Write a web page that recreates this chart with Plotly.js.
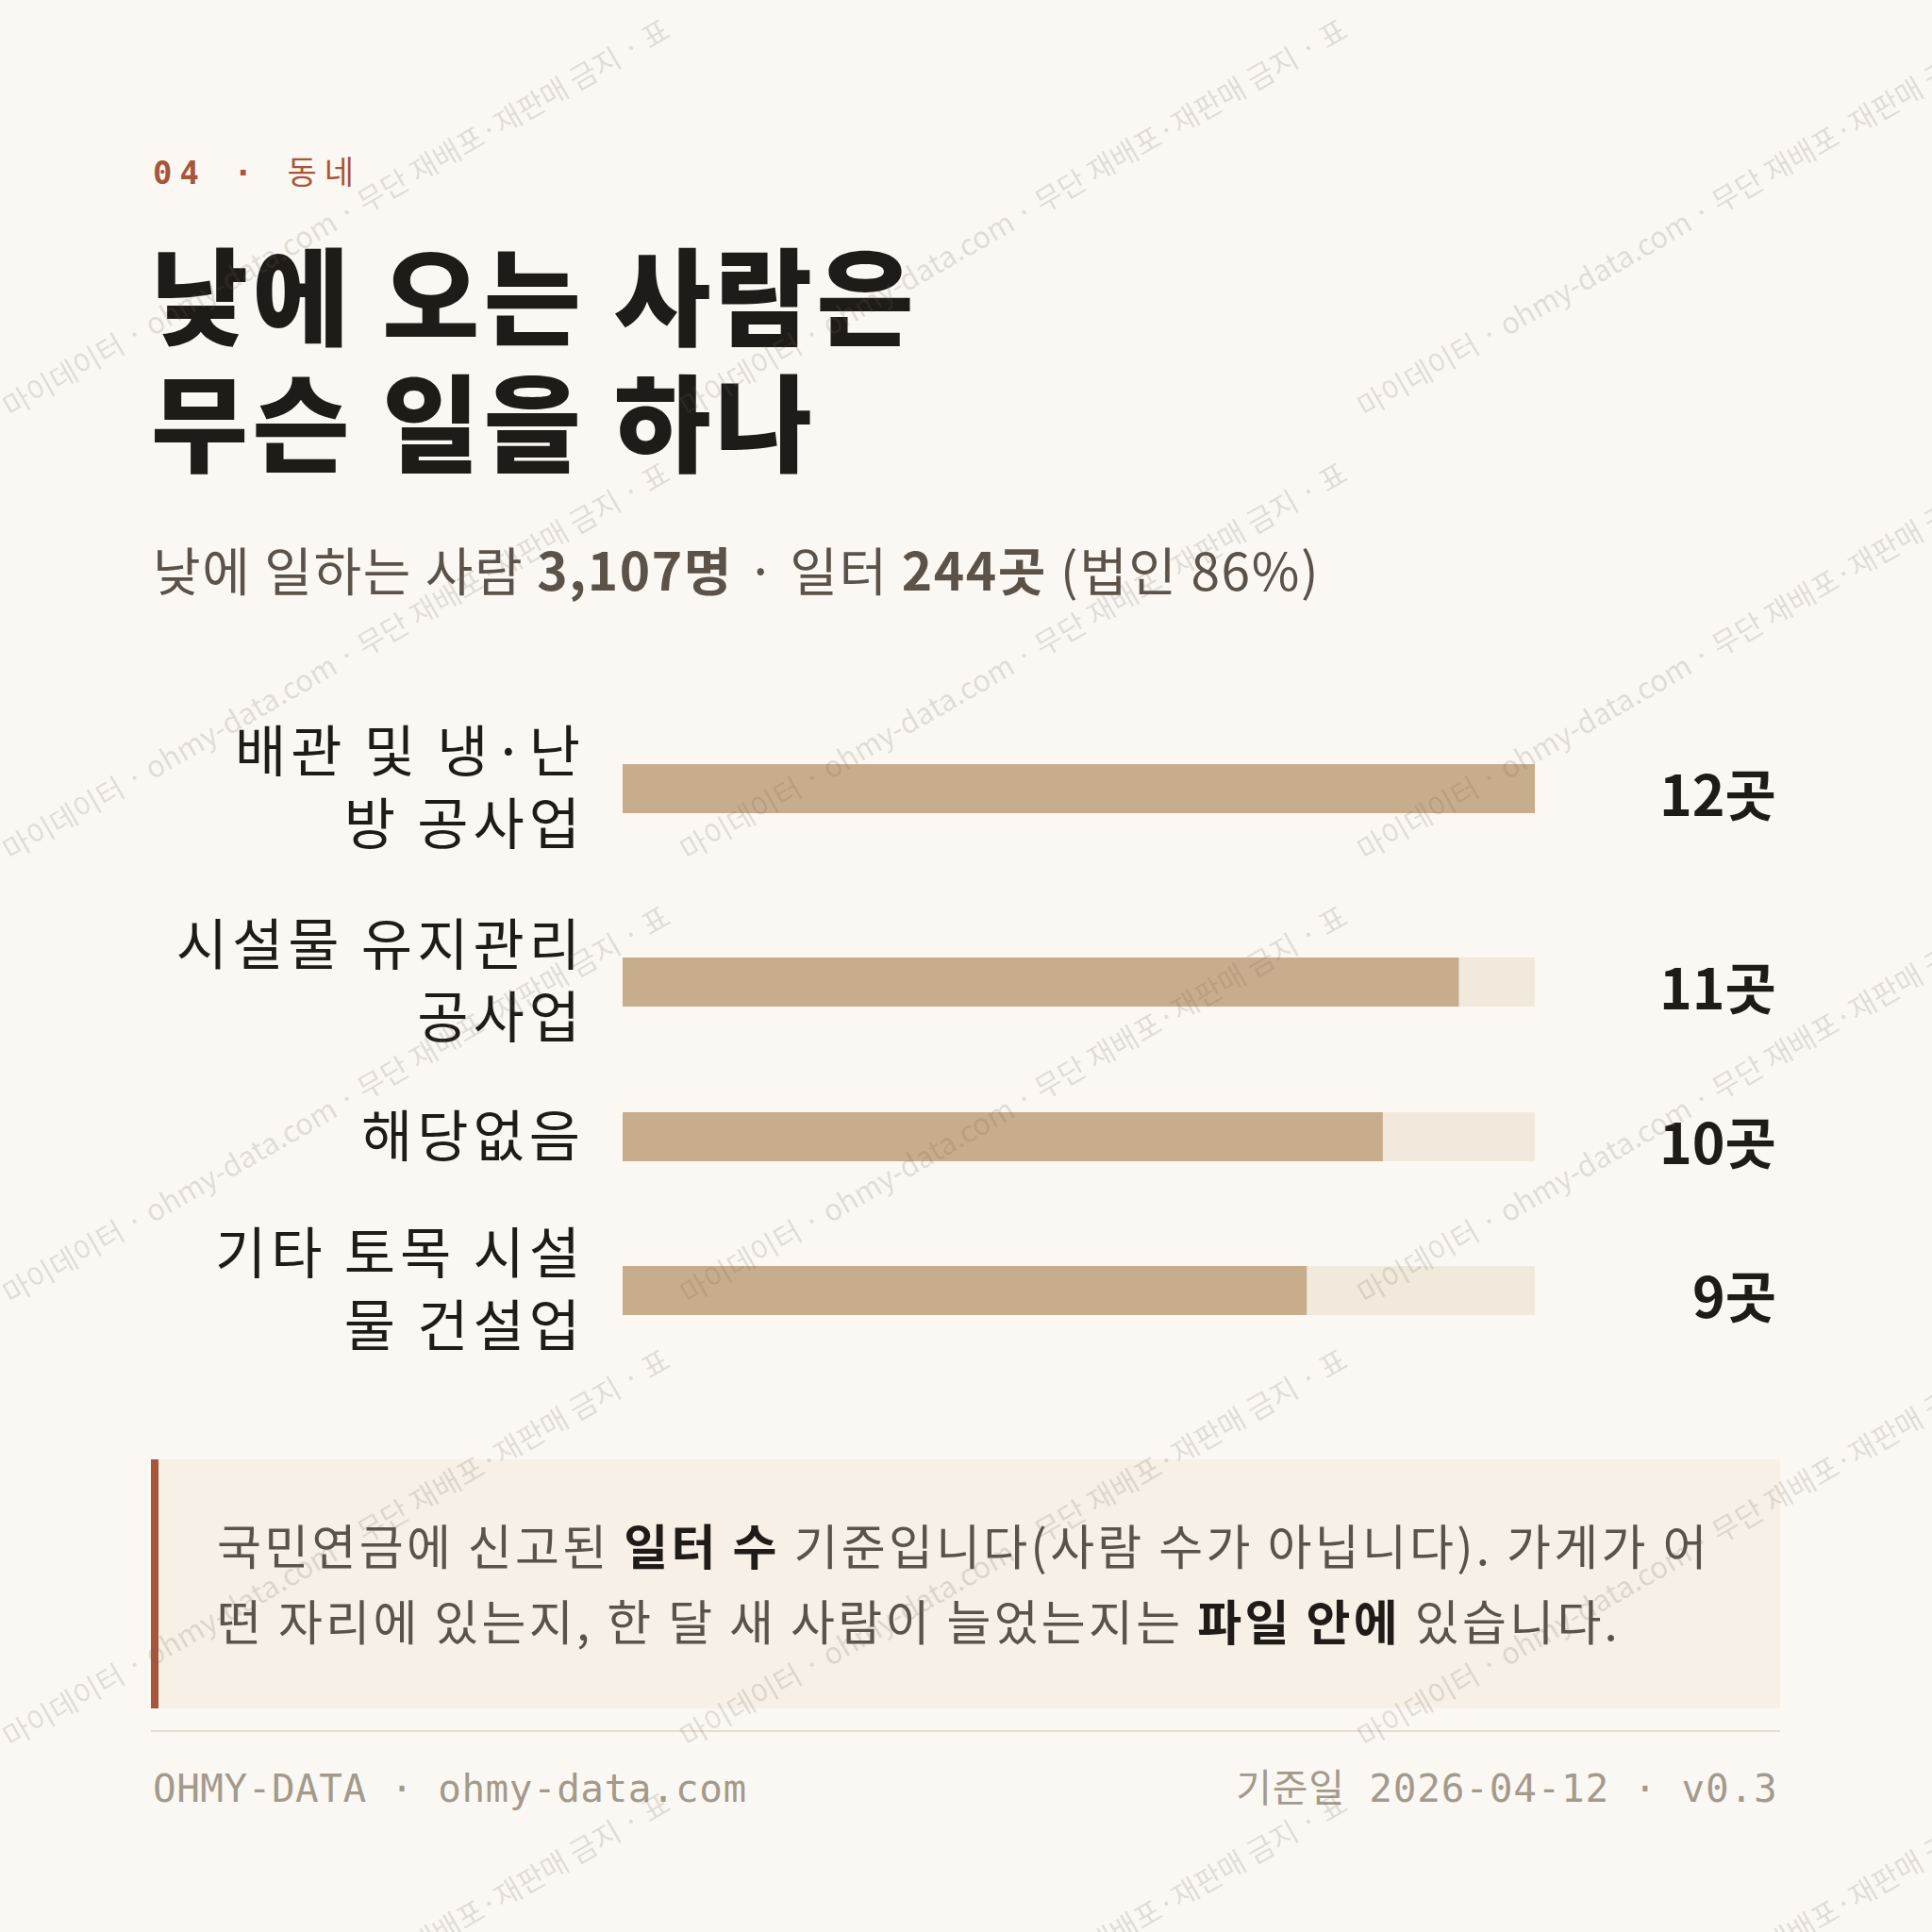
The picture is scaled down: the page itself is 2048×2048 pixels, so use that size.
<!DOCTYPE html>
<html>
<head>
<meta charset="utf-8">
<script src="https://cdn.plot.ly/plotly-3.0.1.min.js"></script>
<style>
  html, body { margin: 0; padding: 0; background: #FBF8F3; }
  #chart { width: 2048px; height: 2048px; }
</style>
</head>
<body>
<div id="chart"></div>
<script>
// ---------------- data ----------------
const categories = ['배관 및 냉·난방 공사업', '시설물 유지관리 공사업', '해당없음', '기타 토목 시설물 건설업'];
const tickLabels = ['배관 및 냉·난<br>방 공사업', '시설물 유지관리<br>공사업', '해당없음', '기타 토목 시설<br>물 건설업'];
const values = [12, 11, 10, 9];
const unit = '곳';

const kicker = '04 ·';
const section = '동네';
const titleLines = ['낮에 오는 사람은', '무슨 일을 하나'];
const subtitle = '낮에 일하는 사람 <b>3,107명</b> · 일터 <b>244곳</b> (법인 86%)';
const noteLines = [
  '국민연금에 신고된 <b><span style="color:#1F1B18">일터 수</span></b> 기준입니다(사람 수가 아닙니다). 가게가 어',
  '떤 자리에 있는지, 한 달 새 사람이 늘었는지는 <b><span style="color:#1F1B18">파일 안에</span></b> 있습니다.'
];
const footerLeft = 'OHMY-DATA · ohmy-data.com';
const footerRight = '기준일 2026-04-12 · v0.3';
const watermark = '마이데이터 · ohmy-data.com · 무단 재배포·재판매 금지 · 표';

// ---------------- style ----------------
const W = 2048, H = 2048;
const KR = "'Noto Sans CJK KR', 'Noto Sans', sans-serif";
const MONO = "'DejaVu Sans Mono', 'Noto Sans CJK KR', monospace";
const C = {
  bg: '#FBF8F3', bar: '#C8AD8C', track: '#F1E9DC', ink: '#1F1B18', sub: '#5B5349',
  accent: '#A8553A', noteBg: '#F6F0E6', rule: '#E6DDD0', foot: '#A39A8E'
};
const px = v => v / W;
const py = v => 1 - v / H;

const rowCenters = [836, 1041, 1205, 1368]; // layout row positions (px)
const rowHalf = 50;
const barThick = 0.52;
const maxVal = Math.max(...values);
const labelSpacing = 5;

// ---------------- traces ----------------
const traces = [];
const layout = {
  width: W, height: H,
  margin: { l: 0, r: 0, t: 0, b: 0 },
  paper_bgcolor: C.bg, plot_bgcolor: 'rgba(0,0,0,0)',
  showlegend: false,
  barmode: 'overlay',
  xaxis: { domain: [px(660), px(1627)], range: [0, maxVal], visible: false, fixedrange: true },
  annotations: [], shapes: []
};
const spacing = {}; // annotation index -> letter-spacing px

categories.forEach((cat, i) => {
  const yName = i === 0 ? 'y' : 'y' + (i + 1);
  const axKey = i === 0 ? 'yaxis' : 'yaxis' + (i + 1);
  traces.push({
    type: 'bar', orientation: 'h', x: [maxVal], y: [cat], xaxis: 'x', yaxis: yName,
    width: barThick, marker: { color: C.track }, hoverinfo: 'skip'
  });
  traces.push({
    type: 'bar', orientation: 'h', x: [values[i]], y: [cat], xaxis: 'x', yaxis: yName,
    width: barThick, marker: { color: C.bar }, hoverinfo: 'skip'
  });
  layout[axKey] = {
    domain: [py(rowCenters[i] + rowHalf), py(rowCenters[i] - rowHalf)],
    anchor: 'x', type: 'category',
    range: [-0.5, 0.5],
    tickmode: 'array', tickvals: [cat], ticktext: [tickLabels[i]],
    ticks: '', ticklabelstandoff: 44 - labelSpacing,
    tickfont: { family: KR, size: 59, color: C.ink },
    showgrid: false, zeroline: false, showline: false, fixedrange: true
  };
  layout.annotations.push({
    xref: 'paper', yref: yName, x: px(1885), y: cat, xanchor: 'right', yanchor: 'middle',
    yshift: -3, showarrow: false,
    text: '<b>' + values[i] + unit + '</b>',
    font: { family: KR, size: 59, color: C.ink }
  });
});

// ---------------- text annotations ----------------
function addText(text, x, y, opts, ls) {
  if (ls) spacing[layout.annotations.length] = ls;
  layout.annotations.push(Object.assign({
    xref: 'paper', yref: 'paper', x: px(x), y: py(y), xanchor: 'left', yanchor: 'middle',
    align: 'left', showarrow: false, text: text
  }, opts));
}
addText('<b>' + kicker + '</b> <span style="font-family:' + "'Noto Sans CJK KR'" + '">' + section + '</span>', 160, 180,
  { font: { family: MONO, size: 34, color: C.accent } }, 8);
addText(titleLines[0], 158, 309, { font: { family: KR, size: 112, color: C.ink, weight: 900 } }, 4.5);
addText(titleLines[1], 158, 443, { font: { family: KR, size: 112, color: C.ink, weight: 900 } }, 4.5);
addText(subtitle, 160, 602, { font: { family: KR, size: 55, color: C.sub } }, 1.6);
addText(noteLines[0], 228, 1637, { font: { family: KR, size: 51, color: C.sub } }, 3.3);
addText(noteLines[1], 228, 1717, { font: { family: KR, size: 51, color: C.sub } }, 3.3);
addText(footerLeft, 160, 1896, { font: { family: MONO, size: 41, color: C.foot } }, 0.5);
addText(footerRight, 1886, 1896, { xanchor: 'right', align: 'right', font: { family: MONO, size: 41, color: C.foot } }, 0.8);

// ---------------- shapes ----------------
layout.shapes.push(
  { type: 'rect', xref: 'paper', yref: 'paper', x0: px(160), x1: px(1887), y0: py(1811), y1: py(1547),
    fillcolor: C.noteBg, line: { width: 0 }, layer: 'below' },
  { type: 'rect', xref: 'paper', yref: 'paper', x0: px(160), x1: px(168), y0: py(1811), y1: py(1547),
    fillcolor: C.accent, line: { width: 0 }, layer: 'below' },
  { type: 'line', xref: 'paper', yref: 'paper', x0: px(160), x1: px(1887), y0: py(1835), y1: py(1835),
    line: { color: C.rule, width: 2 }, layer: 'below' }
);

// ---------------- watermark ----------------
const tileW = 718, tileH = 470;
for (let r = 0; r < 5; r++) {
  for (let c = 0; c < 3; c++) {
    layout.annotations.push({
      xref: 'paper', yref: 'paper', x: px(tileW / 2 + c * tileW - 4), y: py(229 + r * tileH),
      xanchor: 'center', yanchor: 'middle', showarrow: false, textangle: -30,
      text: watermark, font: { family: KR, size: 31, color: 'rgba(110,100,90,0.19)' }
    });
  }
}

Plotly.newPlot('chart', traces, layout, { displayModeBar: false, staticPlot: true }).then(gd => {
  Object.keys(spacing).forEach(idx => {
    const t = gd.querySelector('.annotation[data-index="' + idx + '"] .annotation-text');
    if (t) t.style.letterSpacing = spacing[idx] + 'px';
  });
  gd.querySelectorAll('.yaxislayer-above text').forEach(t => { t.style.letterSpacing = labelSpacing + 'px'; });
});
</script>
</body>
</html>
